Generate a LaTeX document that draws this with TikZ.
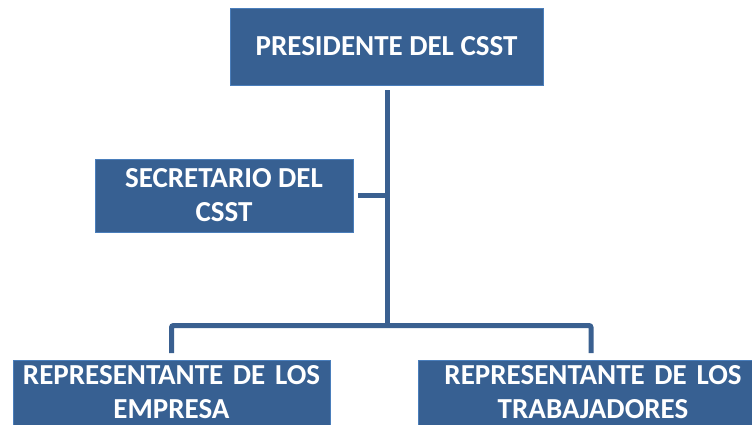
\documentclass[tikz,border=0pt]{standalone}
\usepackage{fontspec}
\setmainfont{Carlito}
\definecolor{boxfill}{HTML}{376092}
\definecolor{boxedge}{HTML}{4A7EBB}
\definecolor{linkcol}{HTML}{3A6090}
\begin{document}
\begin{tikzpicture}[x=1pt,y=-1pt,
  orgbox/.style={fill=boxfill, draw=boxedge, line width=0.8pt, text=white,
    font=\bfseries\fontsize{29}{34}\selectfont, align=center, inner sep=0pt},
  link/.style={draw=linkcol, line width=5pt, rounded corners=2pt}]
\useasboundingbox (0,0) rectangle (752,425);
\clip (0,0) rectangle (752,425);
\node[orgbox, minimum width=313pt, minimum height=77pt] (pres) at (386.5,46.5) {PRESIDENTE DEL CSST};
\node[orgbox, minimum width=258pt, minimum height=73pt] (sec) at (224,195.5) {SECRETARIO DEL\\CSST};
\node[orgbox, anchor=north, text width=317pt, inner ysep=5pt] (emp) at (171.5,360) {REPRESENTANTE DE LOS\\EMPRESA\rule[-30pt]{0pt}{30pt}};
\node[orgbox, anchor=north, text width=350pt, inner ysep=5pt] (trab) at (593,360) {REPRESENTANTE DE LOS\\TRABAJADORES\rule[-30pt]{0pt}{30pt}};
\coordinate (jn) at (387,325.5);
\draw[link, shorten <=5pt] (pres.south -| jn) -- (jn);
\draw[link, shorten <=5pt] (sec.east) -- (sec.east -| jn);
\draw[link, shorten <=7pt, shorten >=7pt] (emp.north) |- (jn) -| ([xshift=-2pt]trab.north);
\end{tikzpicture}
\end{document}
